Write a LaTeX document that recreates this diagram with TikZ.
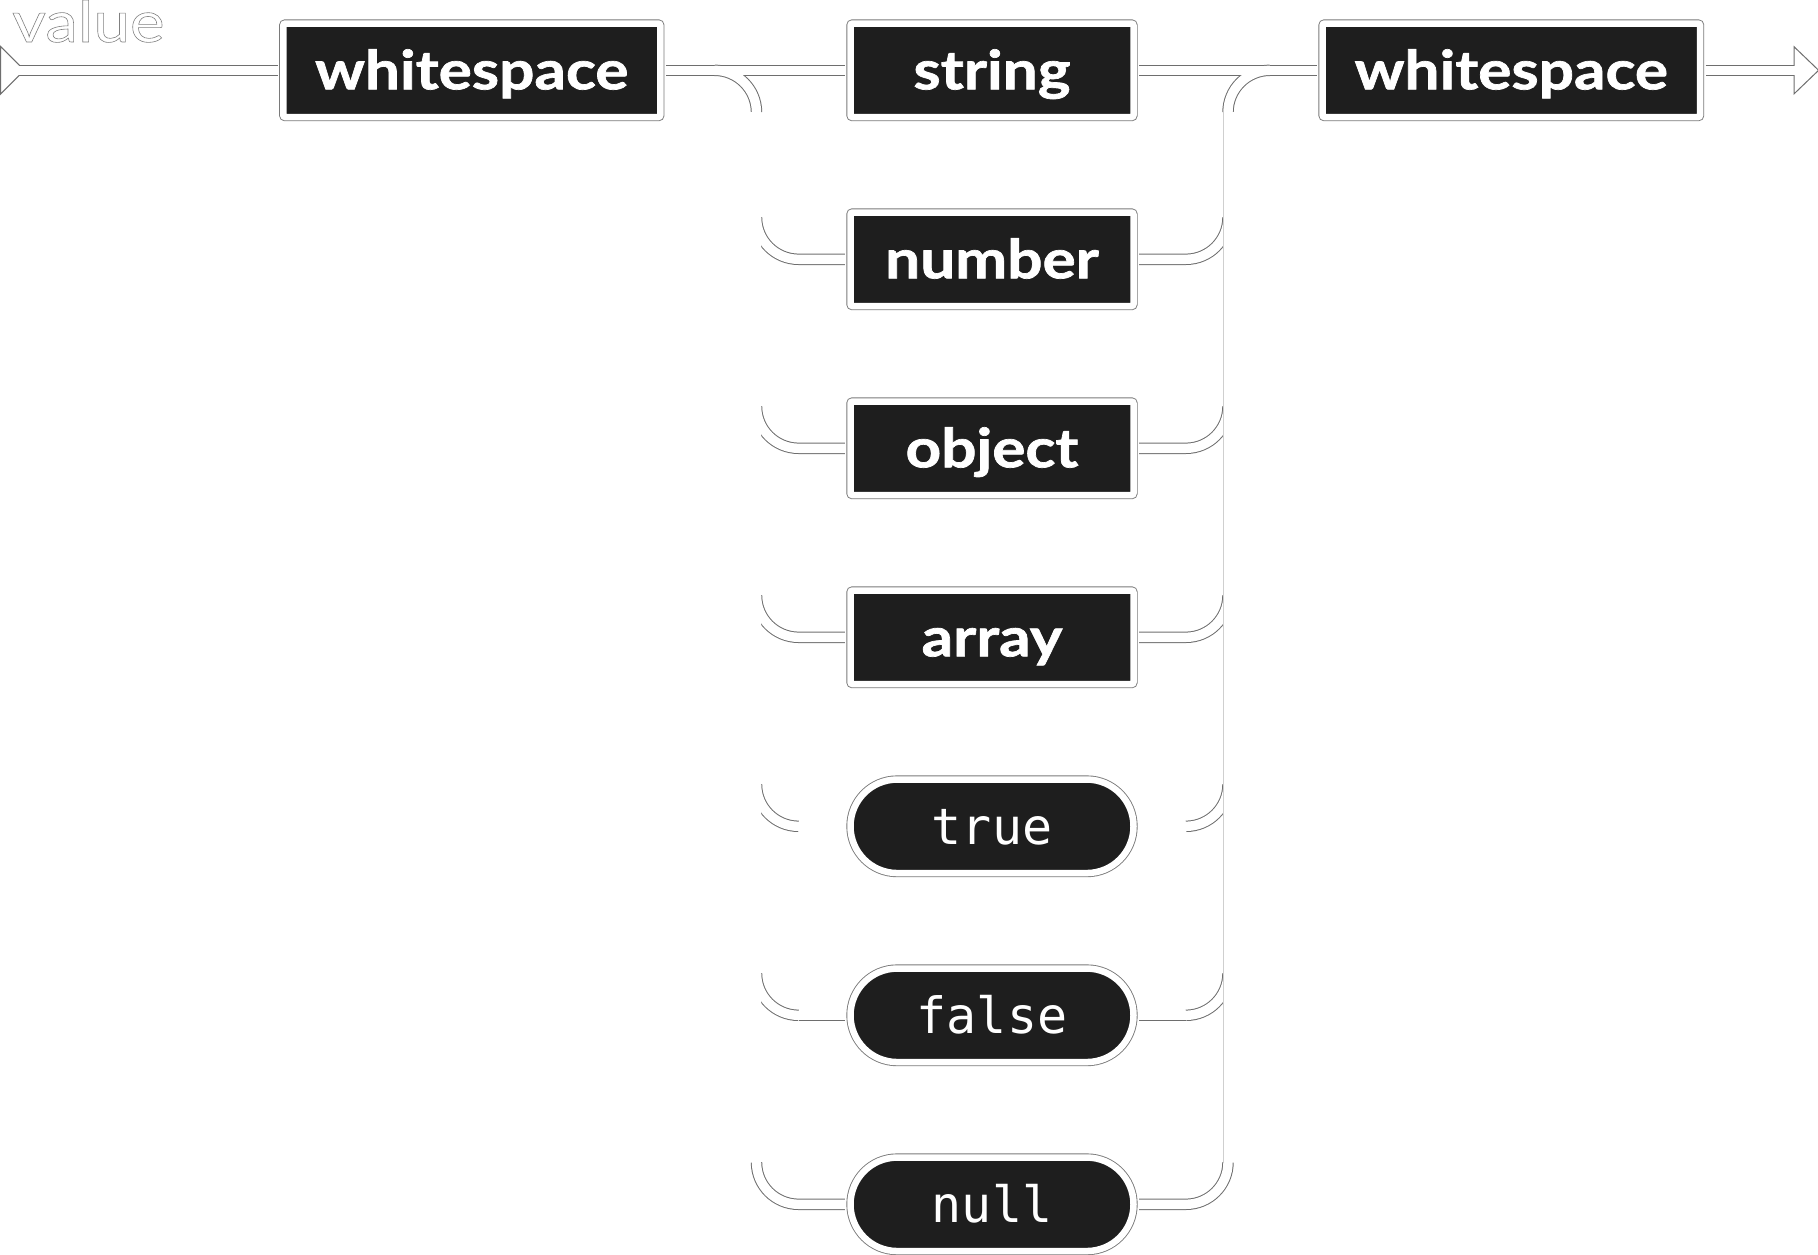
\documentclass[tikz,border=0pt]{standalone}
\usepackage{fontspec}
\setmainfont{Lato}
\newfontfamily\ntfont{Lato}[FakeStretch=1.15]
\newfontfamily\ntboldfont{Lato Bold}[FakeStretch=1.15, FakeBold=1.3]
\newfontfamily\tmfont{DejaVu Sans Mono}
\definecolor{boxblk}{HTML}{1E1E1E}
\definecolor{railgray}{HTML}{6E6E6E}
\definecolor{bordergray}{HTML}{7A7A7A}
\definecolor{trunkgray}{HTML}{CFCFCF}
\tikzset{
  ntbox/.style={rectangle, fill=boxblk, draw=white, line width=6.5pt, rounded corners=2pt,
    inner sep=0pt, minimum height=93.5pt, minimum width=283pt, text height=38pt, text depth=0pt,
    text=white, font=\ntboldfont\fontsize{54}{54}\selectfont,
    preaction={draw=bordergray, line width=8.3pt}},
  tmbox/.style={ntbox, rounded corners=46.7pt, text height=37pt,
    font=\tmfont\fontsize{50}{50}\selectfont},
  railbg/.style={draw=railgray, line width=11.4pt},
  railfg/.style={draw=white, line width=9.4pt},
  trunkfg/.style={draw=white, line width=11pt},
  arrowtip/.style={fill=white, draw=railgray, line width=1pt},
  edgeline/.style={draw=railgray, line width=1pt},
  trunkline/.style={draw=trunkgray, line width=1pt}
}
\begin{document}
\begin{tikzpicture}[x=1pt,y=-1pt]
\useasboundingbox (0,0) rectangle (1818,1255);

% label
\node[anchor=base west, inner sep=0pt, text=white, font=\ntfont\fontsize{57}{57}\selectfont] (lbl) at (12,42)
  {\special{pdf:literal direct 2 Tr 0.5 G 0.6 w}value\special{pdf:literal direct 0 Tr}};

% boxes
\node[ntbox, minimum width=377pt] (ws1) at (471.75,70.3) {whitespace};
\node[ntbox] (str) at (992,70.3) {string};
\node[ntbox, minimum width=377.5pt] (ws2) at (1511.3,70.3) {whitespace};
\node[ntbox] (num) at (992,259.3) {number};
\node[ntbox] (obj) at (992,448.3) {object};
\node[ntbox] (arr) at (992,637.3) {array};
\node[tmbox] (tru) at (992,826.3) {true};
\node[tmbox] (fls) at (992,1015.3) {false};
\node[tmbox] (nul) at (992,1204.3) {null};

\foreach \n in {ws1,str,ws2,num,obj,arr,tru,fls,nul}{
  \coordinate (\n-in) at ([xshift=-2.3pt]\n.west);
  \coordinate (\n-out) at ([xshift=2.3pt]\n.east);
}
\coordinate (sA) at (14,70.3);
\coordinate (eA) at (1796,70.3);
\coordinate (L0) at (756.5,70.3);
\coordinate (L6) at (756.5,1204.3);
\coordinate (R0) at (1228,70.3);
\coordinate (R6) at (1228,1204.3);
\coordinate (Lt) at (755.8,112.3);
\coordinate (Lb) at (755.8,1162.3);
\coordinate (Rt) at (1228.5,112.3);
\coordinate (Rb) at (1228.5,1162.3);

% ---- outline pass ----
\draw[railbg] (sA) -- (ws1-in);
\draw[railbg] (ws1-out) -- (str-in);
\draw[railbg] (str-out) -- (ws2-in);
\draw[railbg] (ws2-out) -- (eA);
\draw[railbg, rounded corners=42pt] (714.5,70.3) -- (L0) -- (756.5,112.3);
\draw[railbg, rounded corners=42pt] (1228,112.3) -- (R0) -- (1270,70.3);
\draw[railbg, rounded corners=42pt] (756.5,217.3) -- (756.5,259.3) -- (num-in);
\draw[railbg, rounded corners=42pt] (num-out) -- (1228,259.3) -- (1228,217.3);
\draw[railbg, rounded corners=42pt] (756.5,406.3) -- (756.5,448.3) -- (obj-in);
\draw[railbg, rounded corners=42pt] (obj-out) -- (1228,448.3) -- (1228,406.3);
\draw[railbg, rounded corners=42pt] (756.5,595.3) -- (756.5,637.3) -- (arr-in);
\draw[railbg, rounded corners=42pt] (arr-out) -- (1228,637.3) -- (1228,595.3);
\draw[railbg, rounded corners=42pt] (756.5,784.3) -- (756.5,826.3) -- (798.5,826.3);
\draw[railbg, rounded corners=42pt] (1186,826.3) -- (1228,826.3) -- (1228,784.3);
\draw[railbg, rounded corners=42pt] (756.5,973.3) -- (756.5,1015.3) -- (798.5,1015.3);
\draw[railbg, rounded corners=42pt] (1186,1015.3) -- (1228,1015.3) -- (1228,973.3);
\draw[railbg, rounded corners=42pt] (756.5,1162.3) -- (L6) -- (nul-in);
\draw[railbg, rounded corners=42pt] (nul-out) -- (R6) -- (1228,1162.3);

% arrow heads
\draw[arrowtip] (0.6,46.5) -- (0.6,94.1) -- (24.4,70.3) -- cycle;
\draw[arrowtip] (1794,46.7) -- (1794,93.9) -- (1818.6,70.3) -- cycle;

% ---- fill pass ----
\draw[railfg] (sA) -- (ws1-in);
\draw[railfg] (ws1-out) -- (str-in);
\draw[railfg] (str-out) -- (ws2-in);
\draw[railfg] (ws2-out) -- (eA);
\draw[railfg, rounded corners=42pt] (714.5,70.3) -- (L0) -- (L6) -- (nul-in);
\draw[railfg, rounded corners=42pt] (1270,70.3) -- (R0) -- (R6) -- (nul-out);
\draw[trunkfg] (Lt) -- (Lb);
\draw[trunkfg] (Rt) -- (Rb);
\draw[railfg, rounded corners=42pt] (756.5,217.3) -- (756.5,259.3) -- (num-in);
\draw[railfg, rounded corners=42pt] (num-out) -- (1228,259.3) -- (1228,217.3);
\draw[railfg, rounded corners=42pt] (756.5,406.3) -- (756.5,448.3) -- (obj-in);
\draw[railfg, rounded corners=42pt] (obj-out) -- (1228,448.3) -- (1228,406.3);
\draw[railfg, rounded corners=42pt] (756.5,595.3) -- (756.5,637.3) -- (arr-in);
\draw[railfg, rounded corners=42pt] (arr-out) -- (1228,637.3) -- (1228,595.3);
\draw[railfg, rounded corners=42pt] (756.5,784.3) -- (756.5,826.3) -- (tru-in);
\draw[railfg, rounded corners=42pt] (tru-out) -- (1228,826.3) -- (1228,784.3);
\draw[railfg, rounded corners=42pt] (756.5,973.3) -- (756.5,1015.3) -- (fls-in);
\draw[railfg, rounded corners=42pt] (fls-out) -- (1228,1015.3) -- (1228,973.3);

% ---- visible single edges ----
\draw[trunkline] (1223.3,112.3) -- (1223.3,1162.3);
\draw[edgeline] (798.5,1020.2) -- ([yshift=-4.9pt]fls-in);
\draw[edgeline] ([yshift=-4.9pt]fls-out) -- (1186,1020.2);
\end{tikzpicture}
\end{document}
